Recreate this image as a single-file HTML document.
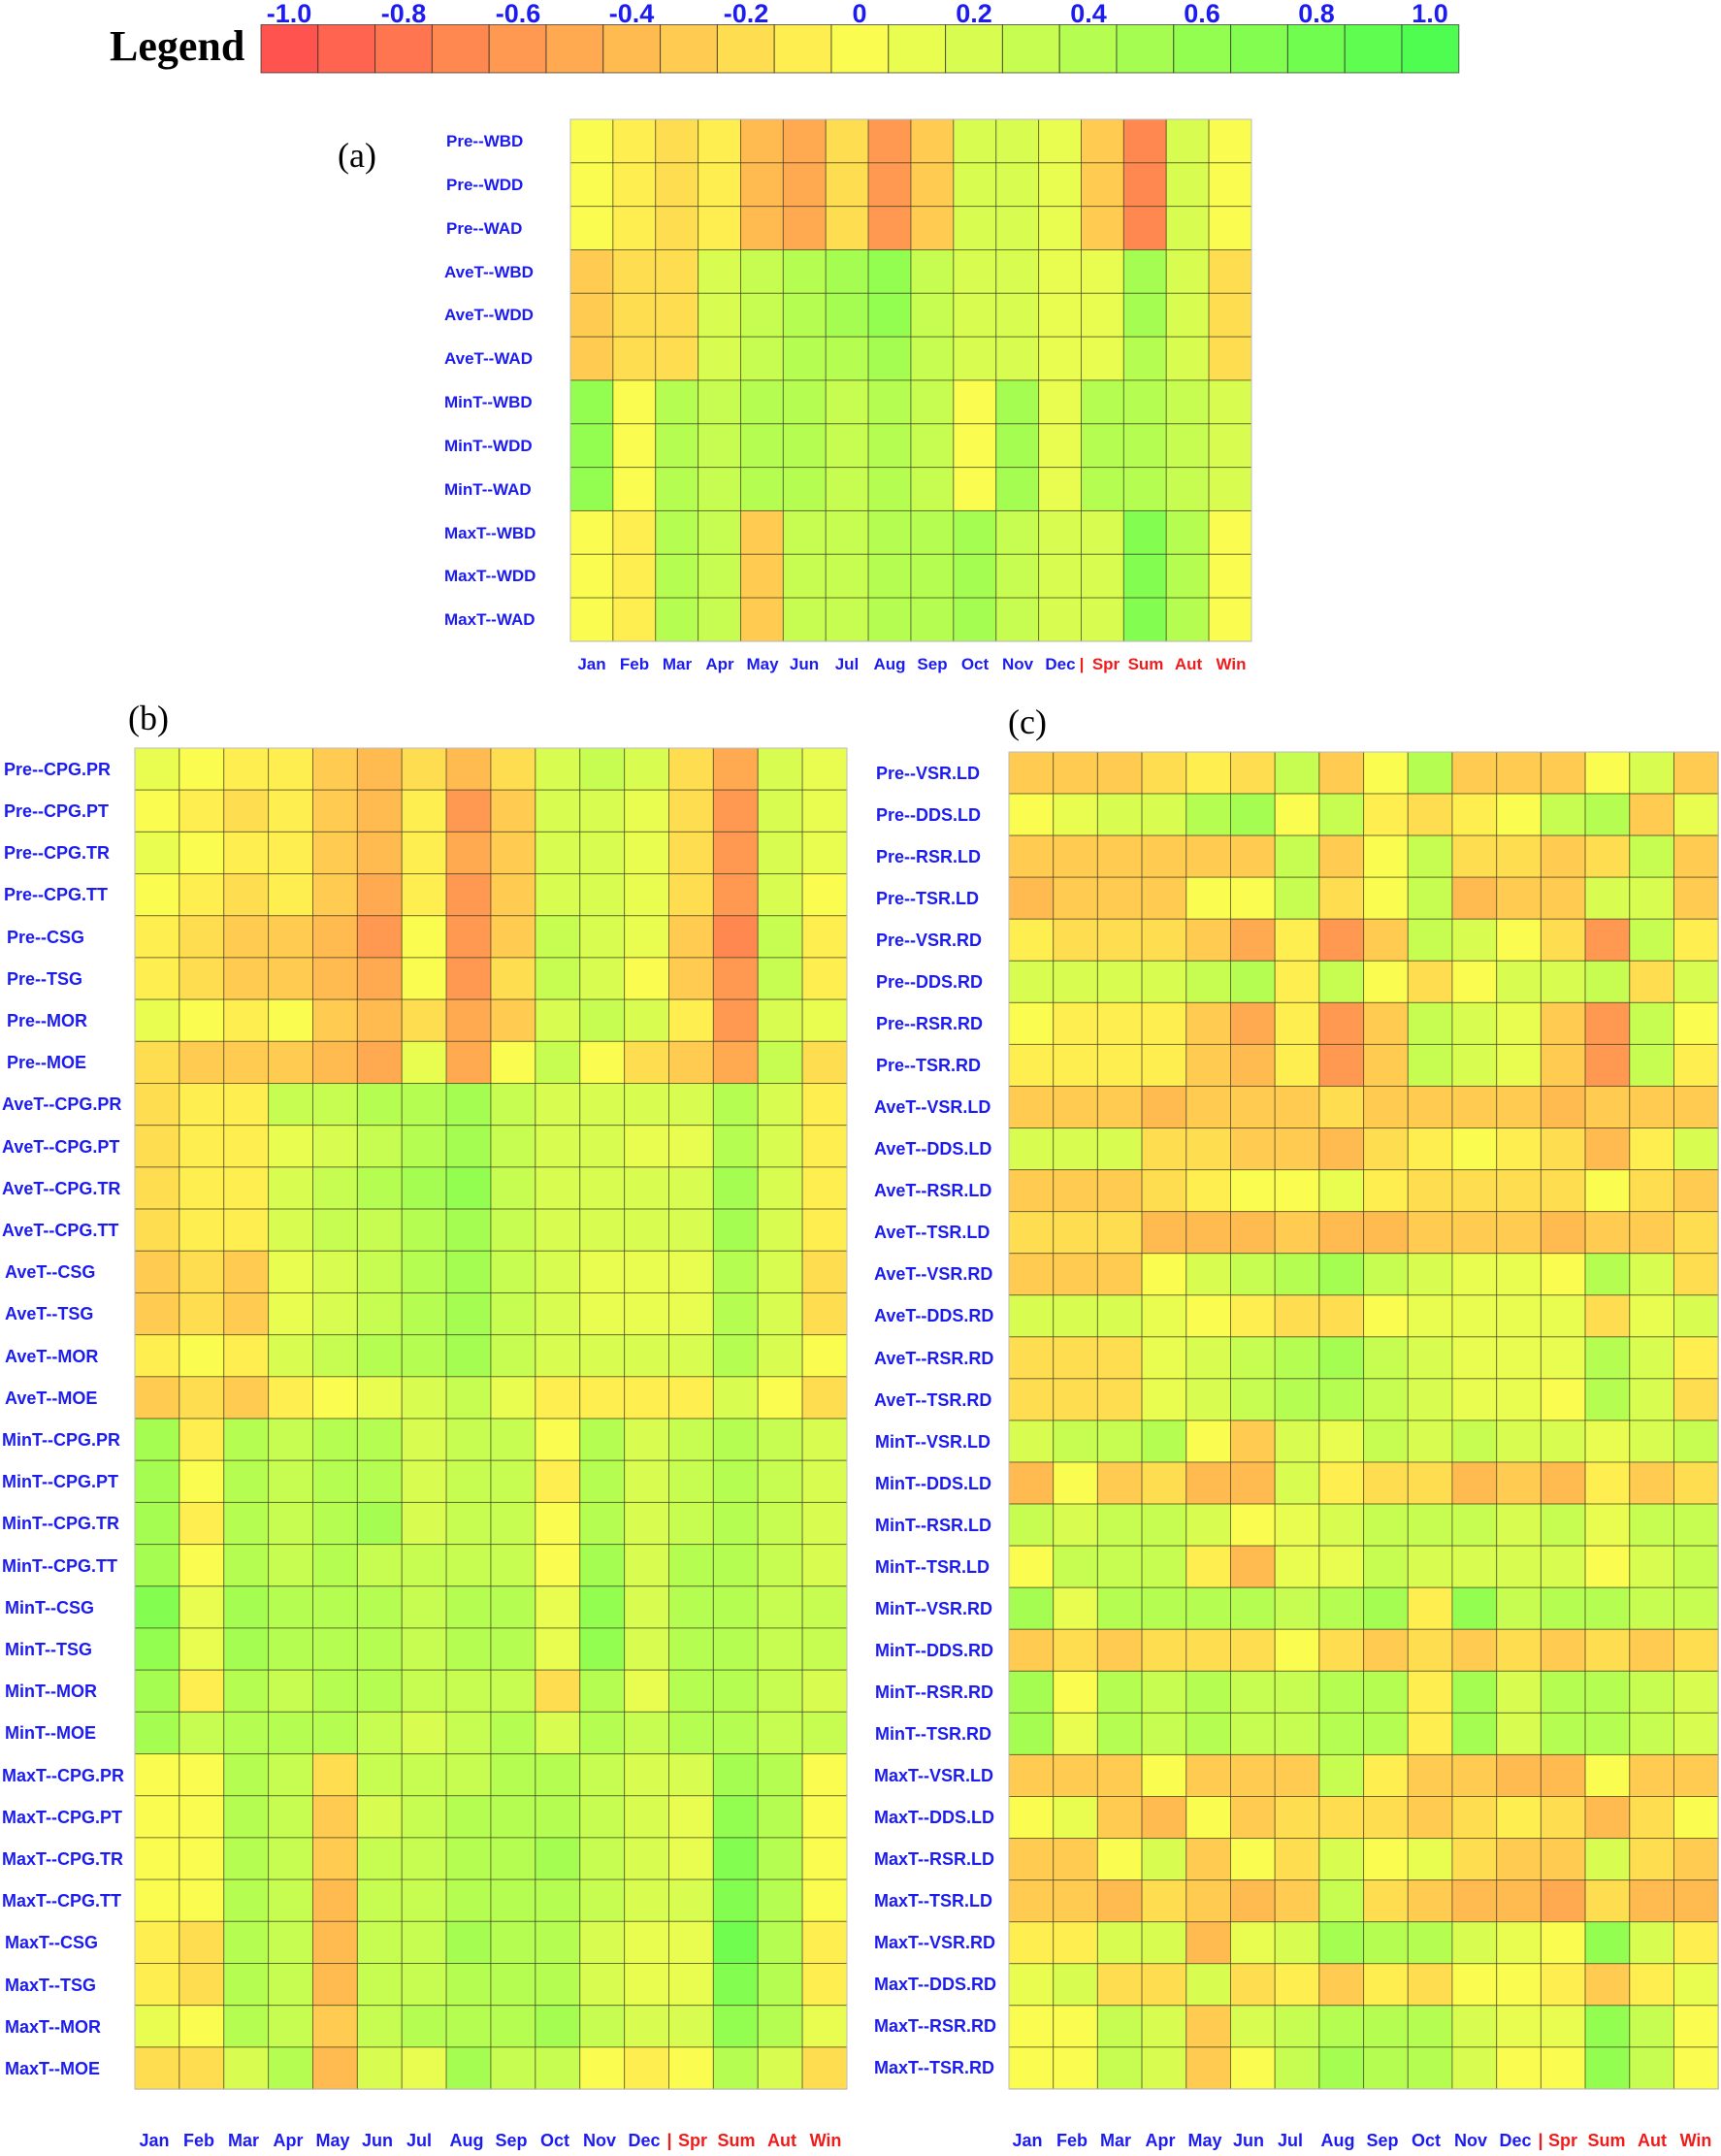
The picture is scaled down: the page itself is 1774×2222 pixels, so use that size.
<!DOCTYPE html>
<html><head><meta charset="utf-8"><style>
html,body{margin:0;padding:0;background:#fff;}
svg{display:block;}
.rl{font-family:"Liberation Sans",Arial,sans-serif;font-weight:bold;fill:#1c1cf0;}
.cl{font-family:"Liberation Sans",Arial,sans-serif;font-weight:bold;fill:#1c1cf0;text-anchor:middle;}
.red{fill:#f01c1c;}
.pl{font-family:"Liberation Serif",serif;font-size:36px;fill:#000;}
</style></head><body>
<svg id="s" width="1774" height="2222" xmlns="http://www.w3.org/2000/svg">
<text x="113" y="62" style="font-family:'Liberation Serif',serif;font-weight:bold;font-size:44px" fill="#000">Legend</text>
<g id="legend"></g>
<g style="font-family:'Liberation Sans',sans-serif;font-weight:bold;font-size:27px" fill="#1c1cf0" text-anchor="middle">
<text x="298" y="23">-1.0</text><text x="416" y="23">-0.8</text><text x="534" y="23">-0.6</text><text x="651" y="23">-0.4</text><text x="769" y="23">-0.2</text><text x="886" y="23">0</text><text x="1004" y="23">0.2</text><text x="1122" y="23">0.4</text><text x="1239" y="23">0.6</text><text x="1357" y="23">0.8</text><text x="1474" y="23">1.0</text>
</g>
<g id="cells"></g>
<text class="pl" x="348" y="172">(a)</text>
<text class="pl" x="132" y="752">(b)</text>
<text class="pl" x="1039" y="756">(c)</text>
<g id="labels"></g>
</svg>
<script>
var NS="http://www.w3.org/2000/svg",S=document.getElementById('s');
function col(c){var v=(c.charCodeAt(0)-107)/10;var r,g;if(v<0){r=255;g=Math.round(255+172*v);}else{g=253;r=Math.round(250-172*v);}return 'rgb('+r+','+g+',80)';}
function rect(p,x,y,w,h,f,st){var e=document.createElementNS(NS,'rect');e.setAttribute('x',x);e.setAttribute('y',y);e.setAttribute('width',w);e.setAttribute('height',h);e.setAttribute('fill',f);if(st){e.setAttribute('stroke',st);e.setAttribute('stroke-width','1');}p.appendChild(e);}
var L=document.getElementById('legend');
for(var i=0;i<21;i++){rect(L,269+i*58.8,25.5,58.8,49.5,col(String.fromCharCode(97+i)),'rgba(40,40,40,0.7)');}
var C=document.getElementById('cells');
function panel(x0,y0,cw,rh,rows){
 for(var r=0;r<rows.length;r++)for(var c=0;c<16;c++){rect(C,x0+c*cw,y0+r*rh,cw,rh,col(rows[r][c]),'rgba(50,50,30,0.55)');}
 var e=document.createElementNS(NS,'rect');e.setAttribute('x',x0);e.setAttribute('y',y0);e.setAttribute('width',cw*16);e.setAttribute('height',rh*rows.length);e.setAttribute('fill','none');e.setAttribute('stroke','#bbb');C.appendChild(e);
}
var A=["kjijgfiehmmlhdmk","kjijgfiehmmlhdmk","kjijgfiehmmlhdmk","hiimnopqnmmllpmi","hiimnopqnmmllpmi","hiimnoopnmmllomi","qkonoononkploonm","qkonoononkploonm","qkonoononkploonm","kjonhnnoopnmmrok","kjonhnnoopnmmrok","kjonhnnoopnmmrok"];
var B=["lkjjhgigimnmifml","kjijhgjehmmlieml","lkjjhgjfhmmlieml","kjijhfjehmmliemk","jihhgekehnmlhdnj","jihhgfkeinmkhenj","lkjkhgifhmnmjeml","ihhhgflfknkihfni",
"ijjnnoopnmmmmomj","ijjlmnopnmmllomj","ijjmnopqnmmmmpmj","ijjmnnopnmmmmpmj","hihlmnopnmlllomi","hihlmnopnmlllomi","jkjmnoopnmmmmomk","hihjklmnljjjjmki",
"pjonoomnnkomnonm","pkonoomnnjomnonm","pjonopmnnkomnonm","pkononnnnkpmoonm","rlpooonoolqmoonn","qlpooonoolqmoonn","pjonoonnnioloonm","pnooonmnomonoonn",
"kkoninnnoonmmpok","kkonhmnooonmlqok","kkonhnnoopnmlrok","kkongnnooonmmrok","jiongnnpoomllsoj","jiongnnooomllroj","lkonhnooopnmmqol","iimogmlpnnkjkomi"];
var Cc=["hhhijinhkohhhkmh","klmmopknjijknohl","hhhhhhnhkniihinh","ghhhkknikngh hmmh".replace(' ',''),"jiiihfjehnmkienj","mmmmnojnkikmmnim","kjjjhfjehnmlhenk","jjjjhgjehnmlhenj",
"hhhghhhihhhhghhh","mmmiihhgijkjigjm","hhhijkkljiiiikih","iiiggghgghhhghhi","hhhkmnopnmllkomi","mmmlkjiikllllilm","iiilmnopnmlllomj","iiilmnoonmllkomi",
"mnnokhmlnmnmmlmn","gkhiggmjiighgjhi","nmnnmklmnnnmnlnn","knnnjgllnmmmmkmn","ploooonopjqnoonn","hihiiikihihihihi","pkononnoojpmoonm","plononnoojpmoonm",
"hhhkhhhnjhhggkhh","klhgkhiiihijigik","hhkmhkimklihhmih","hhgihghnihggfigg","jjmmglmpoomlkqmj","lmiimijhjikkjhjl","kknmhmnooomllqnk","kknmhknpoomkkqnk"];
panel(588,123,43.875,44.83,A);
panel(139,771,45.875,43.19,B);
panel(1040,775,45.7,43.06,Cc);
</script>
<svg style="position:absolute;left:0;top:0" width="1774" height="2222" xmlns="http://www.w3.org/2000/svg">
<g class="rl" style="font-size:17px">
<text x="460" y="151">Pre--WBD</text><text x="460" y="196">Pre--WDD</text><text x="460" y="241">Pre--WAD</text>
<text x="458" y="286">AveT--WBD</text><text x="458" y="330">AveT--WDD</text><text x="458" y="375">AveT--WAD</text>
<text x="458" y="420">MinT--WBD</text><text x="458" y="465">MinT--WDD</text><text x="458" y="510">MinT--WAD</text>
<text x="458" y="555">MaxT--WBD</text><text x="458" y="599">MaxT--WDD</text><text x="458" y="644">MaxT--WAD</text>
</g>
<g class="cl" style="font-size:17px">
<text x="610" y="690">Jan</text><text x="654" y="690">Feb</text><text x="698" y="690">Mar</text><text x="742" y="690">Apr</text><text x="786" y="690">May</text><text x="829" y="690">Jun</text><text x="873" y="690">Jul</text><text x="917" y="690">Aug</text><text x="961" y="690">Sep</text><text x="1005" y="690">Oct</text><text x="1049" y="690">Nov</text><text x="1093" y="690">Dec</text>
<text class="red" x="1115" y="690">|</text><text class="red" x="1140" y="690">Spr</text><text class="red" x="1181" y="690">Sum</text><text class="red" x="1225" y="690">Aut</text><text class="red" x="1269" y="690">Win</text>
</g>
<g class="rl" style="font-size:18px">
<text x="4" y="799">Pre--CPG.PR</text><text x="4" y="842">Pre--CPG.PT</text><text x="4" y="885">Pre--CPG.TR</text><text x="4" y="928">Pre--CPG.TT</text>
<text x="7" y="972">Pre--CSG</text><text x="7" y="1015">Pre--TSG</text><text x="7" y="1058">Pre--MOR</text><text x="7" y="1101">Pre--MOE</text>
<text x="2" y="1144">AveT--CPG.PR</text><text x="2" y="1188">AveT--CPG.PT</text><text x="2" y="1231">AveT--CPG.TR</text><text x="2" y="1274">AveT--CPG.TT</text>
<text x="5" y="1317">AveT--CSG</text><text x="5" y="1360">AveT--TSG</text><text x="5" y="1404">AveT--MOR</text><text x="5" y="1447">AveT--MOE</text>
<text x="2" y="1490">MinT--CPG.PR</text><text x="2" y="1533">MinT--CPG.PT</text><text x="2" y="1576">MinT--CPG.TR</text><text x="2" y="1620">MinT--CPG.TT</text>
<text x="5" y="1663">MinT--CSG</text><text x="5" y="1706">MinT--TSG</text><text x="5" y="1749">MinT--MOR</text><text x="5" y="1792">MinT--MOE</text>
<text x="2" y="1836">MaxT--CPG.PR</text><text x="2" y="1879">MaxT--CPG.PT</text><text x="2" y="1922">MaxT--CPG.TR</text><text x="2" y="1965">MaxT--CPG.TT</text>
<text x="5" y="2008">MaxT--CSG</text><text x="5" y="2052">MaxT--TSG</text><text x="5" y="2095">MaxT--MOR</text><text x="5" y="2138">MaxT--MOE</text>
</g>
<g class="rl" style="font-size:18px">
<text x="903" y="803">Pre--VSR.LD</text><text x="903" y="846">Pre--DDS.LD</text><text x="903" y="889">Pre--RSR.LD</text><text x="903" y="932">Pre--TSR.LD</text>
<text x="903" y="975">Pre--VSR.RD</text><text x="903" y="1018">Pre--DDS.RD</text><text x="903" y="1061">Pre--RSR.RD</text><text x="903" y="1104">Pre--TSR.RD</text>
<text x="901" y="1147">AveT--VSR.LD</text><text x="901" y="1190">AveT--DDS.LD</text><text x="901" y="1233">AveT--RSR.LD</text><text x="901" y="1276">AveT--TSR.LD</text>
<text x="901" y="1319">AveT--VSR.RD</text><text x="901" y="1362">AveT--DDS.RD</text><text x="901" y="1406">AveT--RSR.RD</text><text x="901" y="1449">AveT--TSR.RD</text>
<text x="902" y="1492">MinT--VSR.LD</text><text x="902" y="1535">MinT--DDS.LD</text><text x="902" y="1578">MinT--RSR.LD</text><text x="902" y="1621">MinT--TSR.LD</text>
<text x="902" y="1664">MinT--VSR.RD</text><text x="902" y="1707">MinT--DDS.RD</text><text x="902" y="1750">MinT--RSR.RD</text><text x="902" y="1793">MinT--TSR.RD</text>
<text x="901" y="1836">MaxT--VSR.LD</text><text x="901" y="1879">MaxT--DDS.LD</text><text x="901" y="1922">MaxT--RSR.LD</text><text x="901" y="1965">MaxT--TSR.LD</text>
<text x="901" y="2008">MaxT--VSR.RD</text><text x="901" y="2051">MaxT--DDS.RD</text><text x="901" y="2094">MaxT--RSR.RD</text><text x="901" y="2137">MaxT--TSR.RD</text>
</g>
<g class="cl" style="font-size:18px">
<text x="159" y="2212">Jan</text><text x="205" y="2212">Feb</text><text x="251" y="2212">Mar</text><text x="297" y="2212">Apr</text><text x="343" y="2212">May</text><text x="389" y="2212">Jun</text><text x="432" y="2212">Jul</text><text x="481" y="2212">Aug</text><text x="527" y="2212">Sep</text><text x="572" y="2212">Oct</text><text x="618" y="2212">Nov</text><text x="664" y="2212">Dec</text>
<text class="red" x="690" y="2212">|</text><text class="red" x="714" y="2212">Spr</text><text class="red" x="759" y="2212">Sum</text><text class="red" x="806" y="2212">Aut</text><text class="red" x="851" y="2212">Win</text>
</g>
<g class="cl" style="font-size:18px">
<text x="1059" y="2212">Jan</text><text x="1105" y="2212">Feb</text><text x="1150" y="2212">Mar</text><text x="1196" y="2212">Apr</text><text x="1242" y="2212">May</text><text x="1287" y="2212">Jun</text><text x="1330" y="2212">Jul</text><text x="1379" y="2212">Aug</text><text x="1425" y="2212">Sep</text><text x="1470" y="2212">Oct</text><text x="1516" y="2212">Nov</text><text x="1562" y="2212">Dec</text>
<text class="red" x="1588" y="2212">|</text><text class="red" x="1611" y="2212">Spr</text><text class="red" x="1656" y="2212">Sum</text><text class="red" x="1703" y="2212">Aut</text><text class="red" x="1748" y="2212">Win</text>
</g>
</svg>
</body></html>
